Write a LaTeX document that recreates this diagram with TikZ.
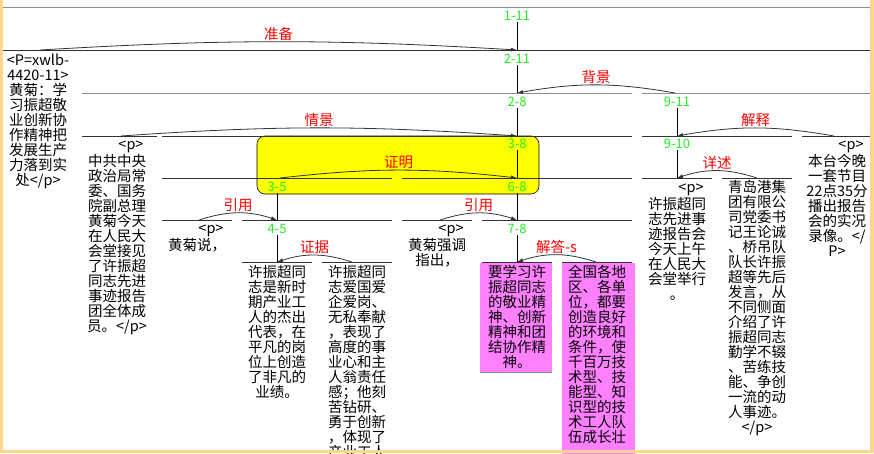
\documentclass[tikz,border=0pt]{standalone}
\usepackage{fontspec}
\setmainfont{Noto Sans CJK SC}
\usepackage{tikz}
\usepackage{xcolor}
\usetikzlibrary{arrows.meta}
\definecolor{frame}{HTML}{FFD68A}
\definecolor{hilite}{HTML}{FFFF00}
\definecolor{pinkbox}{HTML}{FF80FF}
\definecolor{spangreen}{HTML}{22EE22}
\definecolor{relred}{HTML}{FF0000}
\definecolor{ink}{HTML}{333333}
\definecolor{light}{HTML}{8C8C8C}
\newcommand{\leaffont}{\fontsize{14.5}{15}\selectfont}
\newcommand{\ptag}{\hspace*{28pt}<p>}
\tikzset{
  bar/.style={draw=ink, line width=0.9pt},
  barlt/.style={draw=light, line width=0.9pt},
  stem/.style={draw=black, line width=0.8pt},
  relarc/.style={draw=ink, line width=0.8pt, -{Latex[length=6pt,width=4pt]}},
  rellbl/.style={text=relred, font=\leaffont, inner sep=1pt, above, midway},
  spanlbl/.style={text=spangreen, font=\fontsize{13}{13}\selectfont, inner sep=1pt},
  leaf/.style={text width=70pt, align=center, inner sep=0pt, anchor=north,
               font=\leaffont}
}

\begin{document}
\begin{tikzpicture}[x=1pt,y=-1pt]
    \useasboundingbox (0,0) rectangle (874,453);
    \clip (0,0) rectangle (874,453);

    % ===== highlight boxes =====
    \draw[fill=hilite, line width=0.6pt, rounded corners=8pt] (257,136) rectangle (539,194);
    \fill[pinkbox] (480,263) rectangle (552,372);
    \draw[light, line width=0.6pt] (480,372) -- (552,372);
    \fill[pinkbox] (562,263) rectangle (635,460);

    % ===== span bars =====
    \draw[barlt] (0,7) -- (870,7);
    \draw[bar] (0,50) -- (82,50);
    \draw[bar] (82,50) -- (870,50);
    \draw[barlt] (82,93) -- (632,93);
    \draw[barlt] (642,93) -- (870,93);
    \draw[bar] (82,136) -- (157,136);
    \draw[bar] (162,136) -- (632,136);
    \draw[bar] (642,136) -- (792,136);
    \draw[bar] (802,136) -- (870,136);
    \draw[bar] (162,178) -- (392,178);
    \draw[bar] (402,178) -- (632,178);
    \draw[bar] (642,178) -- (712,178);
    \draw[bar] (722,178) -- (792,178);
    \draw[bar] (162,220) -- (232,220);
    \draw[bar] (242,220) -- (392,220);
    \draw[bar] (402,220) -- (472,220);
    \draw[bar] (482,220) -- (632,220);
    \draw[bar] (242,262) -- (312,262);
    \draw[bar] (322,262) -- (392,262);
    \draw[bar] (482,262) -- (552,262);
    \draw[bar] (562,262) -- (632,262);

    % ===== span labels =====
    \node[spanlbl] (l1-11) at (517,16) {1-11};
    \node[spanlbl] (l2-11) at (517,59) {2-11};
    \node[spanlbl] (l2-8) at (517,102) {2-8};
    \node[spanlbl] (l9-11) at (677,102) {9-11};
    \node[spanlbl] (l3-8) at (517,144) {3-8};
    \node[spanlbl] (l9-10) at (677,144) {9-10};
    \node[spanlbl] (l3-5) at (277,187) {3-5};
    \node[spanlbl] (l6-8) at (517,187) {6-8};
    \node[spanlbl] (l4-5) at (277,229) {4-5};
    \node[spanlbl] (l7-8) at (517,229) {7-8};

    % nucleus tops
    \coordinate (t2-11) at (517,50);
    \coordinate (t2-8) at (517,93);
    \coordinate (t3-8) at (517,136);
    \coordinate (t9-10) at (677,136);
    \coordinate (t6-8) at (517,178);
    \coordinate (t9) at (677,178);
    \coordinate (t4-5) at (277,220);
    \coordinate (t7-8) at (517,220);
    \coordinate (t4) at (277,262);
    \coordinate (t7) at (517,262);
    % satellite starts
    \coordinate (s1) at (40,50);
    \coordinate (s9-11) at (675,93);
    \coordinate (s2) at (121,136);
    \coordinate (s11) at (834,136);
    \coordinate (s3-5) at (280,178);
    \coordinate (s10) at (757,178);
    \coordinate (s3) at (199,220);
    \coordinate (s6) at (440,220);
    \coordinate (s5) at (352,262);
    \coordinate (s8) at (596,262);

    % ===== stems =====
    \draw[stem] (l1-11) -- (t2-11);
    \draw[stem] (l2-11) -- (t2-8);
    \draw[stem] (l2-8) -- (t3-8);
    \draw[stem] (l9-11) -- (t9-10);
    \draw[stem] (l3-8) -- (t6-8);
    \draw[stem] (l9-10) -- (t9);
    \draw[stem] (l3-5) -- (t4-5);
    \draw[stem] (l6-8) -- (t7-8);
    \draw[stem] (l4-5) -- (t4);
    \draw[stem] (l7-8) -- (t7);

    % ===== relations =====
    \draw[relarc] (s1) to[bend left=3.4] node[rellbl] {准备} (t2-11);
    \draw[relarc] (s9-11) to[bend right=10] node[rellbl] {背景} (t2-8);
    \draw[relarc] (s2) to[bend left=4] node[rellbl] {情景} (t3-8);
    \draw[relarc] (s11) to[bend right=10] node[rellbl] {解释} (t9-10);
    \draw[relarc] (s3-5) to[bend left=6.5] node[rellbl] {证明} (t6-8);
    \draw[relarc] (s10) to[bend right=18] node[rellbl] {详述} (t9);
    \draw[relarc] (s3) to[bend left=18] node[rellbl] {引用} (t4-5);
    \draw[relarc] (s6) to[bend left=18] node[rellbl] {引用} (t7-8);
    \draw[relarc] (s5) to[bend right=18] node[rellbl] {证据} (t4);
    \draw[relarc] (s8) to[bend right=18] node[rellbl] {解答-s} (t7);

    % ===== leaves =====
    \node[leaf] (e1) at (38,54) {<P=xwlb-\\4420-11>\\黄菊：学\\习振超敬\\业创新协\\作精神把\\发展生产\\力落到实\\处</p>};
    \node[leaf] (e2) at (117,141) {\ptag\\中共中央\\政治局常\\委、国务\\院副总理\\黄菊今天\\在人民大\\会堂接见\\了许振超\\同志先进\\事迹报告\\团全体成\\员。</p>};
    \node[leaf] (e3) at (197,225) {\ptag\\黄菊说，};
    \node[leaf] (e4) at (277,265) {许振超同\\志是新时\\期产业工\\人的杰出\\代表，在\\平凡的岗\\位上创造\\了非凡的\\业绩。};
    \node[leaf] (e5) at (357,265) {许振超同\\志爱国爱\\企爱岗、\\无私奉献\\，表现了\\高度的事\\业心和主\\人翁责任\\感；他刻\\苦钻研、\\勇于创新\\，体现了\\产业工人};
    \node[leaf] (e6) at (437,225) {\ptag\\黄菊强调\\指出，};
    \node[leaf] (e7) at (517,265) {要学习许\\振超同志\\的敬业精\\神、创新\\精神和团\\结协作精\\神。};
    \node[leaf] (e8) at (597,265) {全国各地\\区、各单\\位，都要\\创造良好\\的环境和\\条件，使\\千百万技\\术型、技\\能型、知\\识型的技\\术工人队\\伍成长壮};
    \node[leaf] (e9) at (677,184) {\ptag\\许振超同\\志先进事\\迹报告会\\今天上午\\在人民大\\会堂举行\\。};
    \node[leaf] (e10) at (757,180) {青岛港集\\团有限公\\司党委书\\记王论诚\\、桥吊队\\队长许振\\超等先后\\发言，从\\不同侧面\\介绍了许\\振超同志\\勤学不辍\\、苦练技\\能、争创\\一流的动\\人事迹。\\</p>};
    \node[leaf] (e11) at (837,141) {\ptag\\本台今晚\\一套节目\\22点35分\\播出报告\\会的实况\\录像。</\\P>};

    % ===== frame =====
    \fill[frame] (0,0) rectangle (3,453);
    \fill[frame] (870,0) rectangle (874,453);
    \fill[frame] (0,450) rectangle (874,453);
\end{tikzpicture}
\end{document}
